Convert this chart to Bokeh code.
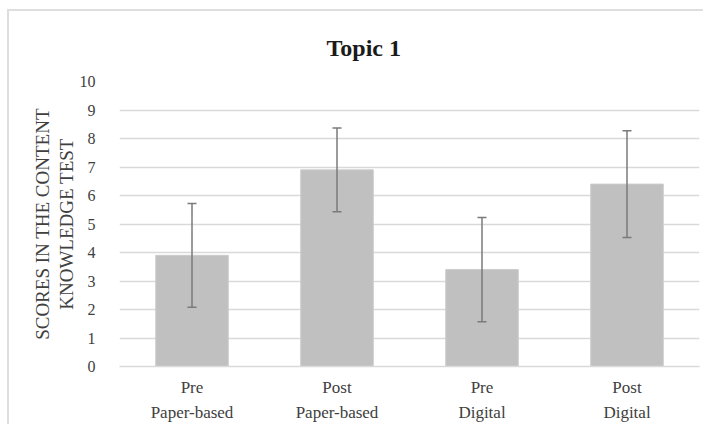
from bokeh.plotting import figure
from bokeh.models import ColumnDataSource, Whisker, TeeHead, Title
from bokeh.embed import file_html
from bokeh.resources import INLINE

categories = ["Pre\nPaper-based", "Post\nPaper-based", "Pre\nDigital", "Post\nDigital"]
means = [3.9, 6.9, 3.4, 6.4]
sds = [1.82, 1.47, 1.83, 1.87]
y_ticks = [0, 1, 2, 3, 4, 5, 6, 7, 8, 9, 10]

upper = [m + s for m, s in zip(means, sds)]
lower = [m - s for m, s in zip(means, sds)]
src = ColumnDataSource(dict(cat=categories, mean=means, upper=upper, lower=lower))

FONT = "Liberation Serif"

p = figure(x_range=categories, y_range=(0, 10), width=703, height=424,
           output_backend="svg", toolbar_location=None,
           min_border_left=119, min_border_right=4, min_border_top=81, min_border_bottom=56)
p.outline_line_color = None
p.border_fill_alpha = 0
p.styles = {
    "background": "linear-gradient(#dedede,#dedede) 7px 9px / 2px 100% no-repeat, "
                  "linear-gradient(#dedede,#dedede) 7px 9px / 100% 2px no-repeat, #ffffff"
}

t = Title(text="Topic 1", align="left", offset=207, text_font=FONT,
          text_font_size="24px", text_font_style="bold", text_color="#1a1a1a", standoff=42)
p.title = t

p.vbar(x="cat", top="mean", width=0.5, source=src, fill_color="#c0c0c0",
       line_color="#cbcbcb", line_width=1)

w = Whisker(base="cat", upper="upper", lower="lower", source=src, level="overlay",
            line_color="#7a7a7a", line_width=1.5,
            upper_head=TeeHead(size=9, line_color="#7a7a7a", line_width=1.5),
            lower_head=TeeHead(size=9, line_color="#7a7a7a", line_width=1.5))
p.add_layout(w)

p.xgrid.grid_line_color = None
p.ygrid.grid_line_color = "#d9d9d9"
p.ygrid.grid_line_width = 1.5
p.yaxis.ticker = y_ticks

p.yaxis.axis_line_color = None
p.yaxis.major_tick_line_color = None
p.yaxis.minor_tick_line_color = None
p.yaxis.major_label_standoff = 18
p.yaxis.major_label_text_font = FONT
p.yaxis.major_label_text_font_size = "16px"
p.yaxis.major_label_text_color = "#404040"
p.yaxis.axis_label = "SCORES IN THE CONTENT\nKNOWLEDGE TEST"
p.yaxis.axis_label_text_font = FONT
p.yaxis.axis_label_text_font_size = "19px"
p.yaxis.axis_label_text_font_style = "normal"
p.yaxis.axis_label_text_color = "#404040"
p.yaxis.axis_label_text_line_height = 1.1
p.yaxis.axis_label_standoff = 0

p.xaxis.axis_line_color = "#d9d9d9"
p.xaxis.axis_line_width = 1.5
p.xaxis.major_tick_line_color = None
p.xaxis.minor_tick_line_color = None
p.xaxis.major_label_standoff = 5
p.xaxis.major_label_text_font = FONT
p.xaxis.major_label_text_font_size = "17px"
p.xaxis.major_label_text_line_height = 1.34
p.xaxis.major_label_text_color = "#404040"
p.xaxis.major_label_orientation = "horizontal"

open("out.html", "w").write(file_html(p, INLINE))
